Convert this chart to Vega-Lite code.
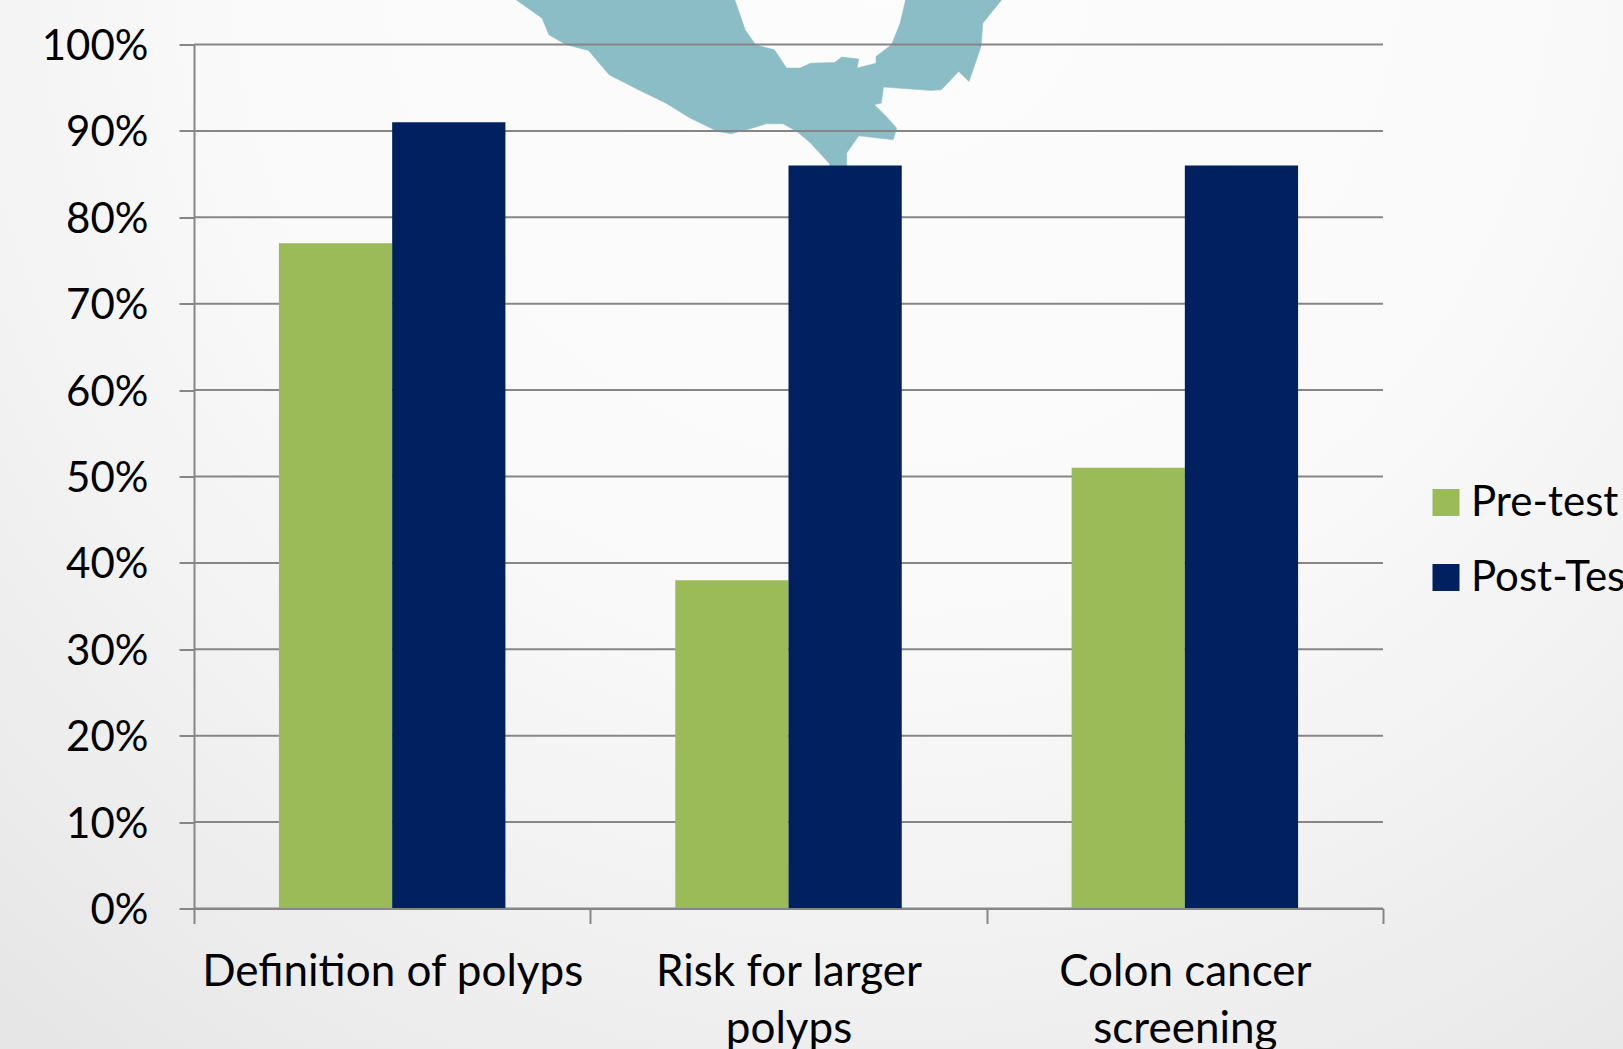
{"$schema":"https://vega.github.io/schema/vega-lite/v6.json","width":1189,"height":864,"autosize":"none","padding":{"left":194,"top":44.5,"right":240,"bottom":140.5},"background":"#f2f2f2","datasets":{"panel":[{"left":-194,"right":1429,"bottom":-0.1627,"top":1.0516}],"bars":[{"topic":"Definition of polyps","test":"Pre-test","score":0.77},{"topic":"Definition of polyps","test":"Post-Test","score":0.91},{"topic":"Risk for larger polyps","test":"Pre-test","score":0.38},{"topic":"Risk for larger polyps","test":"Post-Test","score":0.86},{"topic":"Colon cancer screening","test":"Pre-test","score":0.51},{"topic":"Colon cancer screening","test":"Post-Test","score":0.86}],"grid":[{"g":0},{"g":0.1},{"g":0.2},{"g":0.3},{"g":0.4},{"g":0.5},{"g":0.6},{"g":0.7},{"g":0.8},{"g":0.9},{"g":1}],"map":[{"i":1,"mx":322.2,"v":1.0517},{"i":2,"mx":348,"v":1.0305},{"i":3,"mx":354.9,"v":1.0112},{"i":4,"mx":372.1,"v":0.9997},{"i":5,"mx":394.5,"v":0.9931},{"i":6,"mx":415.1,"v":0.9649},{"i":7,"mx":444.4,"v":0.9476},{"i":8,"mx":472,"v":0.9321},{"i":9,"mx":496,"v":0.9148},{"i":10,"mx":523.6,"v":0.8994},{"i":11,"mx":537.4,"v":0.8967},{"i":12,"mx":558,"v":0.9032},{"i":13,"mx":571.8,"v":0.9082},{"i":14,"mx":589,"v":0.9082},{"i":15,"mx":602.8,"v":0.8994},{"i":16,"mx":616.6,"v":0.8859},{"i":17,"mx":635.5,"v":0.8619},{"i":18,"mx":635.5,"v":0.857},{"i":19,"mx":652.7,"v":0.857},{"i":20,"mx":652.7,"v":0.8743},{"i":21,"mx":664.8,"v":0.8943},{"i":22,"mx":699.2,"v":0.8897},{"i":23,"mx":702.7,"v":0.9032},{"i":24,"mx":692.3,"v":0.9167},{"i":25,"mx":680.3,"v":0.9302},{"i":26,"mx":687.2,"v":0.9322},{"i":27,"mx":689.6,"v":0.9507},{"i":28,"mx":737.1,"v":0.9468},{"i":29,"mx":747.4,"v":0.9476},{"i":30,"mx":764.7,"v":0.9688},{"i":31,"mx":775,"v":0.9572},{"i":32,"mx":787,"v":0.9977},{"i":33,"mx":788.8,"v":1.0247},{"i":34,"mx":807.7,"v":1.0517},{"i":35,"mx":711.6,"v":1.0517},{"i":36,"mx":706.1,"v":1.0247},{"i":37,"mx":697.5,"v":0.9997},{"i":38,"mx":682,"v":0.9862},{"i":39,"mx":682,"v":0.9784},{"i":40,"mx":663.1,"v":0.9727},{"i":41,"mx":664.8,"v":0.9831},{"i":42,"mx":647.6,"v":0.9854},{"i":43,"mx":640.7,"v":0.9792},{"i":44,"mx":616.6,"v":0.9784},{"i":45,"mx":606.2,"v":0.9727},{"i":46,"mx":592.5,"v":0.9727},{"i":47,"mx":580.4,"v":0.9939},{"i":48,"mx":561.5,"v":0.9997},{"i":49,"mx":551.2,"v":1.017},{"i":50,"mx":540.8,"v":1.0517},{"i":51,"mx":322.2,"v":1.0517}]},"layer":[{"data":{"name":"panel"},"mark":{"type":"rect","clip":false,"fill":{"gradient":"radial","x1":0.55,"y1":0.15,"r1":0,"x2":0.55,"y2":0.15,"r2":0.95,"stops":[{"offset":0,"color":"#fdfdfd"},{"offset":0.45,"color":"#f9f9f9"},{"offset":0.65,"color":"#f1f1f1"},{"offset":0.9,"color":"#e6e6e6"},{"offset":1,"color":"#e0e0e0"}]}},"encoding":{"x":{"field":"left","type":"quantitative","scale":{"domain":[0,1189]},"axis":null},"x2":{"field":"right"},"y":{"field":"bottom","type":"quantitative","scale":{"domain":[0,1],"nice":false},"axis":{"title":null,"format":"%","values":[0,0.1,0.2,0.3,0.4,0.5,0.6,0.7,0.8,0.9,1],"grid":false,"domain":true,"domainColor":"#868686","domainWidth":2,"tickColor":"#868686","tickWidth":2,"tickSize":15,"labelFont":"Lato","labelFontSize":42,"labelColor":"#000000","labelPadding":31,"labelOffset":2,"zindex":1}},"y2":{"field":"top"}}},{"data":{"name":"map"},"mark":{"type":"line","fill":"#8BBDC6","stroke":"#8BBDC6","strokeWidth":0.5,"clip":false},"encoding":{"x":{"field":"mx","type":"quantitative","scale":{"domain":[0,1189]},"axis":null},"y":{"field":"v","type":"quantitative"},"order":{"field":"i","type":"quantitative"}}},{"data":{"name":"grid"},"mark":{"type":"rule","color":"#868686","strokeWidth":2},"encoding":{"y":{"field":"g","type":"quantitative"}}},{"data":{"name":"bars"},"mark":{"type":"bar"},"encoding":{"x":{"field":"topic","type":"nominal","sort":null,"scale":{"paddingInner":0,"paddingOuter":0},"axis":{"title":null,"labelAngle":0,"tickBand":"extent","domain":true,"domainColor":"#868686","domainWidth":2,"tickColor":"#868686","tickWidth":2,"tickSize":15,"labelFont":"Lato","labelFontSize":44,"labelColor":"#000000","labelPadding":27,"labelLineHeight":57,"labelBaseline":"top","labelLimit":0,"zindex":1,"labelExpr":"datum.label == 'Risk for larger polyps' ? ['Risk for larger','polyps'] : datum.label == 'Colon cancer screening' ? ['Colon cancer','screening'] : datum.label"}},"xOffset":{"field":"test","type":"nominal","sort":["Pre-test","Post-Test"],"scale":{"paddingInner":0,"paddingOuter":0.75}},"y":{"field":"score","type":"quantitative"},"color":{"field":"test","type":"nominal","sort":["Pre-test","Post-Test"],"scale":{"domain":["Pre-test","Post-Test"],"range":["#9BBB59","#002060"]},"legend":{"title":null,"orient":"none","legendX":1231,"legendY":437,"symbolType":"square","symbolSize":729,"symbolStrokeWidth":0,"labelFont":"Lato","labelFontSize":42,"labelColor":"#000000","labelOffset":4,"labelLimit":0,"rowPadding":33}}}}],"resolve":{"scale":{"x":"independent"}},"config":{"view":{"stroke":null}}}
